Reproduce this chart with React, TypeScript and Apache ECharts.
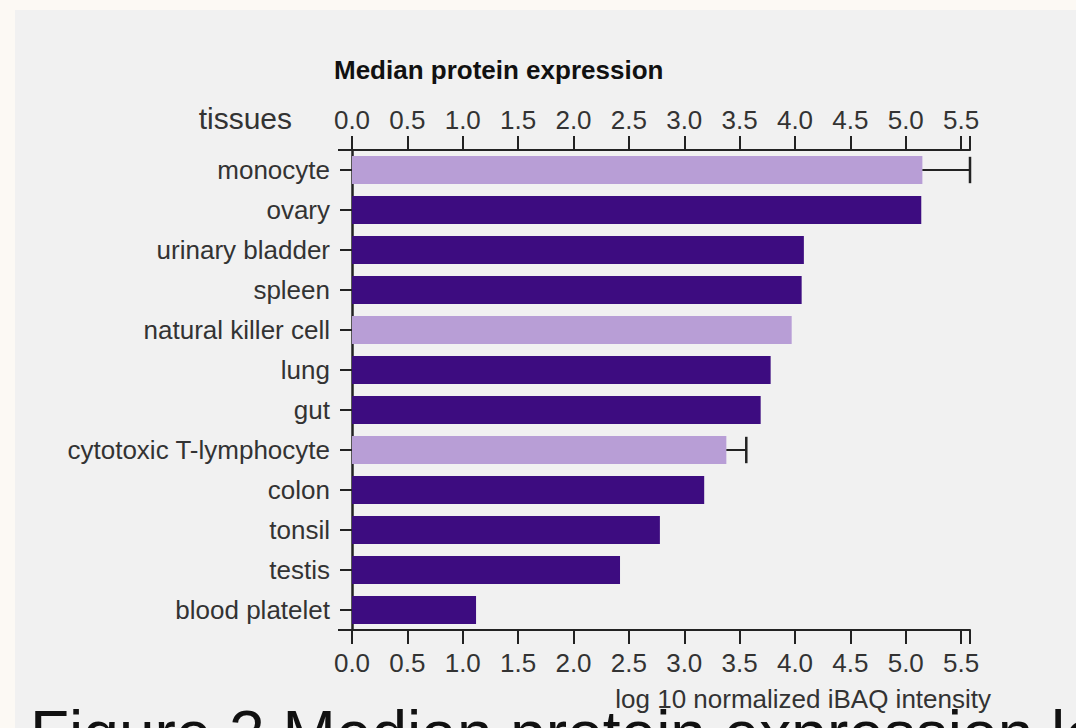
import React, { useEffect, useRef } from "react";
import * as echarts from "echarts";

const categories = [
  "monocyte",
  "ovary",
  "urinary bladder",
  "spleen",
  "natural killer cell",
  "lung",
  "gut",
  "cytotoxic T-lymphocyte",
  "colon",
  "tonsil",
  "testis",
  "blood platelet",
];
const values = [5.15, 5.14, 4.08, 4.06, 3.97, 3.78, 3.69, 3.38, 3.18, 2.78, 2.42, 1.12];
const isBloodCell = [true, false, false, false, true, false, false, true, false, false, false, false];
const errorUpper: (number | null)[] = [5.58, null, null, null, null, null, null, 3.56, null, null, null, null];
const tickValues = [0.0, 0.5, 1.0, 1.5, 2.0, 2.5, 3.0, 3.5, 4.0, 4.5, 5.0, 5.5];
const axisMax = 5.58;

const title = "Median protein expression";
const xName = "log 10 normalized iBAQ intensity";
const yName = "tissues";
const caption = "Figure 3 Median protein expression levels";

const DARK = "#3d0c80";
const LIGHT = "#b89ed6";
const INK = "#222222";
const FONT = "Liberation Sans, Arial, sans-serif";

export default function App() {
  const ref = useRef<HTMLDivElement>(null);

  useEffect(() => {
    if (!ref.current) return;
    const chart = echarts.init(ref.current, undefined, { renderer: "svg" });

    const gridLeft = 352;
    const gridTop = 150;
    const gridRight = 1076 - 970;
    const gridBottom = 728 - 630;

    const fmt = (v: number) => {
      const ok = tickValues.some((t) => Math.abs(t - v) < 1e-6);
      return ok ? v.toFixed(1) : "";
    };

    const xAxisCommon = {
      type: "value" as const,
      min: 0,
      max: axisMax,
      interval: 0.5,
      splitLine: { show: false },
      axisLine: { show: true, lineStyle: { color: INK, width: 2 } },
      axisTick: { show: true, length: 14, lineStyle: { color: INK, width: 2 } },
    };

    const barData = values.map((v, i) => ({
      value: v,
      itemStyle: { color: isBloodCell[i] ? LIGHT : DARK },
    }));

    const errData = errorUpper
      .map((u, i) => (u == null ? null : [u, i, values[i]]))
      .filter((d) => d != null);

    chart.setOption({
      animation: false,
      backgroundColor: "#fcf9f4",
      textStyle: { fontFamily: FONT },
      title: {
        text: title,
        left: 329,
        top: 52,
        textStyle: { fontFamily: FONT, fontWeight: "bold", fontSize: 26, color: "#111" },
      },
      graphic: [
        {
          type: "rect",
          z: -10,
          silent: true,
          shape: { x: 15, y: 10, width: 1061, height: 718 },
          style: { fill: "#f1f1f1" },
        },
        {
          type: "text",
          x: 292,
          y: 118,
          style: {
            text: yName,
            fontFamily: FONT,
            fontSize: 30,
            fill: "#333",
            textAlign: "right",
            textVerticalAlign: "middle",
          },
        },
        {
          type: "text",
          x: 991,
          y: 699,
          style: {
            text: xName,
            fontFamily: FONT,
            fontSize: 26,
            fill: "#333",
            textAlign: "right",
            textVerticalAlign: "middle",
          },
        },
        {
          type: "line",
          shape: { x1: gridLeft - 14, y1: gridTop, x2: gridLeft, y2: gridTop },
          style: { stroke: INK, lineWidth: 2 },
        },
        {
          type: "line",
          shape: { x1: gridLeft - 14, y1: 728 - gridBottom, x2: gridLeft, y2: 728 - gridBottom },
          style: { stroke: INK, lineWidth: 2 },
        },
        {
          type: "text",
          x: 30,
          y: 702,
          style: {
            text: caption,
            fontFamily: FONT,
            fontSize: 64,
            fill: "#111",
            textAlign: "left",
            textVerticalAlign: "top",
          },
        },
      ],
      grid: {
        left: gridLeft,
        right: gridRight,
        top: gridTop,
        bottom: gridBottom,
        containLabel: false,
      },
      xAxis: [
        {
          ...xAxisCommon,
          position: "top",
          axisLabel: {
            show: true,
            formatter: fmt,
            fontSize: 26,
            color: "#333",
            margin: 17,
            fontFamily: FONT,
          },
        },
        {
          ...xAxisCommon,
          position: "bottom",
          axisLabel: {
            show: true,
            formatter: fmt,
            fontSize: 26,
            color: "#333",
            margin: 20,
            fontFamily: FONT,
          },
        },
      ],
      yAxis: {
        type: "category",
        inverse: true,
        data: categories,
        axisLine: { show: true, lineStyle: { color: INK, width: 2.5 } },
        axisTick: { show: true, alignWithLabel: true, length: 12, lineStyle: { color: INK, width: 2 } },
        axisLabel: { fontSize: 26, color: "#333", margin: 22, fontFamily: FONT },
        splitLine: { show: false },
      },
      series: [
        {
          type: "bar",
          xAxisIndex: 0,
          data: barData,
          barWidth: "70%",
          z: 1,
        },
        {
          type: "custom",
          xAxisIndex: 0,
          z: 3,
          data: errData,
          encode: { x: 0, y: 1 },
          renderItem: (_params: any, api: any) => {
            const cat = api.value(1);
            const end = api.coord([api.value(0), cat]);
            const start = api.coord([api.value(2), cat]);
            const h = api.size([0, 1])[1] * 0.66;
            return {
              type: "group",
              children: [
                {
                  type: "line",
                  shape: { x1: start[0], y1: start[1], x2: end[0], y2: end[1] },
                  style: { stroke: INK, lineWidth: 2 },
                },
                {
                  type: "line",
                  shape: { x1: end[0], y1: end[1] - h / 2, x2: end[0], y2: end[1] + h / 2 },
                  style: { stroke: INK, lineWidth: 2.5 },
                },
              ],
            };
          },
        },
      ],
    });

    return () => chart.dispose();
  }, []);

  return (
    <div
      ref={ref}
      style={{ position: "fixed", left: 0, top: 0, width: 1076, height: 728 }}
    />
  );
}
